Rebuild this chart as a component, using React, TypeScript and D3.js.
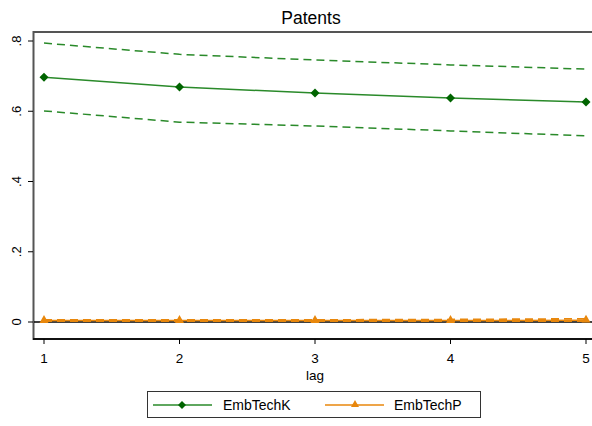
import React from "react";
import * as d3 from "d3";

const lags = [1, 2, 3, 4, 5];
const kEst = [0.697, 0.669, 0.652, 0.638, 0.626];
const kUpper = [0.794, 0.762, 0.746, 0.732, 0.72];
const kLower = [0.601, 0.569, 0.558, 0.544, 0.53];
const pEst = [0.004, 0.004, 0.004, 0.004, 0.005];
const pUpper = [0.006, 0.006, 0.006, 0.007, 0.009];
const pLower = [0.002, 0.002, 0.002, 0.002, 0.002];
const yTicks = [0, 0.2, 0.4, 0.6, 0.8];
const yTickLabels = ["0", ".2", ".4", ".6", ".8"];
const seriesNames = ["EmbTechK", "EmbTechP"];

const GREEN_LINE = "#2a8a2a";
const GREEN_MARK = "#006400";
const ORANGE = "#e8870c";

export default function App() {
  const x = d3.scaleLinear().domain([1, 5]).range([44, 586]);
  const y = d3.scaleLinear().domain([0, 0.8]).range([322, 41]);
  const line = (vals: number[]) =>
    d3.line<number>().x((_, i) => x(lags[i])).y((v) => y(v))(vals) || "";
  const tri = (cx: number, cy: number, s: number) =>
    `M${cx},${cy - s}L${cx + s},${cy + s * 0.75}L${cx - s},${cy + s * 0.75}Z`;
  const diamond = (cx: number, cy: number, s: number) =>
    `M${cx},${cy - s}L${cx + s},${cy}L${cx},${cy + s}L${cx - s},${cy}Z`;
  const font = "Arial, 'Liberation Sans', sans-serif";
  return (
    <svg width={592} height={426} style={{ position: "absolute", left: 0, top: 0, fontFamily: font }}>
      <rect width={592} height={426} fill="#fff" />
      <text x={311} y={24} textAnchor="middle" fontSize={17.5} fill="#000">Patents</text>
      {/* frame */}
      <line x1={33} x2={592} y1={32} y2={32} stroke="#555" strokeWidth={2} />
      <line x1={33.5} x2={33.5} y1={31} y2={340} stroke="#555" strokeWidth={2} />
      <line x1={33} x2={592} y1={339} y2={339} stroke="#111" strokeWidth={2} />
      {/* y ticks */}
      {yTicks.map((t, i) => (
        <g key={t}>
          <line x1={28} x2={33} y1={y(t)} y2={y(t)} stroke="#000" strokeWidth={1} />
          <text
            transform={`translate(21,${y(t)}) rotate(-90)`}
            textAnchor="middle"
            fontSize={13}
            fill="#000"
          >
            {yTickLabels[i]}
          </text>
        </g>
      ))}
      {/* x ticks */}
      {lags.map((l) => (
        <g key={l}>
          <line x1={x(l)} x2={x(l)} y1={339} y2={344} stroke="#000" strokeWidth={1} />
          <text x={x(l)} y={363} textAnchor="middle" fontSize={13.5} fill="#000">{l}</text>
        </g>
      ))}
      <text x={315} y={380} textAnchor="middle" fontSize={13.5} fill="#000">lag</text>
      {/* zero line */}
      <line x1={34} x2={592} y1={y(0)} y2={y(0)} stroke="#000" strokeWidth={1.5} />
      {/* EmbTechK */}
      <path d={line(kUpper)} fill="none" stroke={GREEN_LINE} strokeWidth={1.5} strokeDasharray="8,5" />
      <path d={line(kLower)} fill="none" stroke={GREEN_LINE} strokeWidth={1.5} strokeDasharray="8,5" />
      <path d={line(kEst)} fill="none" stroke={GREEN_LINE} strokeWidth={1.5} />
      {kEst.map((v, i) => (
        <path key={i} d={diamond(x(lags[i]), y(v), 4.5)} fill={GREEN_MARK} />
      ))}
      {/* EmbTechP */}
      <path d={line(pUpper)} fill="none" stroke={ORANGE} strokeWidth={1.8} strokeDasharray="8,5" />
      <path d={line(pLower)} fill="none" stroke={ORANGE} strokeWidth={1.5} strokeDasharray="8,5" />
      <path d={line(pEst)} fill="none" stroke={ORANGE} strokeWidth={1.5} />
      {pEst.map((v, i) => (
        <path key={i} d={tri(x(lags[i]), y(v) - 1, 4.5)} fill={ORANGE} />
      ))}
      {/* legend */}
      <rect x={147.5} y={391.5} width={333} height={26} fill="#fff" stroke="#333" strokeWidth={1} />
      <line x1={153} x2={212} y1={405} y2={405} stroke={GREEN_LINE} strokeWidth={1.5} />
      <path d={diamond(182, 405, 4)} fill={GREEN_MARK} />
      <text x={223} y={410} fontSize={14} fill="#000">{seriesNames[0]}</text>
      <line x1={325} x2={384} y1={405} y2={405} stroke={ORANGE} strokeWidth={1.5} />
      <path d={tri(355, 404, 4)} fill={ORANGE} />
      <text x={394} y={410} fontSize={14} fill="#000">{seriesNames[1]}</text>
    </svg>
  );
}
